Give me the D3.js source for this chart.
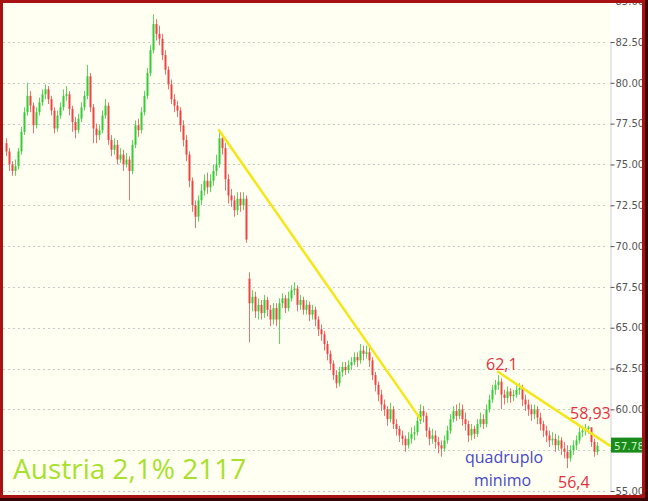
<!DOCTYPE html>
<html>
<head>
<meta charset="utf-8">
<script src="https://cdn.jsdelivr.net/npm/d3@7/dist/d3.min.js"></script>
<style>
html,body{margin:0;padding:0;background:#fff;}
svg{display:block;}
</style>
</head>
<body>
<svg id="chart" width="648" height="501"></svg>
<script>
// ---- data ----
const opens = [76.3,75.8,75.0,74.6,74.9,75.8,77.0,78.2,79.2,78.6,
77.4,78.2,78.8,79.3,79.6,79.0,78.3,77.2,78.0,78.5,
79.2,79.3,78.4,77.6,77.1,77.8,78.5,79.2,80.4,78.5,
77.2,76.8,77.1,78.0,78.6,76.5,75.9,76.2,75.3,75.6,
75.0,75.3,74.6,76.2,77.4,77.1,78.2,79.2,80.6,82.0,
83.6,83.0,82.7,81.7,80.8,79.9,79.0,78.6,78.3,77.4,
76.5,75.6,74.0,72.5,71.8,72.8,73.4,74.0,73.6,74.0,
74.6,75.0,76.6,76.0,74.1,73.1,72.8,72.2,72.9,72.5,
72.9,68.0,66.5,66.9,66.0,66.4,65.9,66.7,66.1,65.5,
66.2,65.5,66.5,66.8,66.2,66.8,67.3,67.4,66.4,66.7,
66.1,66.4,65.8,66.1,65.5,64.9,64.6,64.0,63.4,62.8,
62.1,61.6,62.3,62.6,62.4,62.7,62.9,63.2,63.0,63.6,
63.4,63.5,63.0,62.1,61.5,60.9,60.3,60.0,59.4,60.0,
59.1,58.8,58.4,58.2,57.8,58.2,58.5,58.6,59.3,59.9,
59.6,58.7,58.2,58.4,58.0,57.8,57.6,58.1,58.7,59.4,
59.9,59.6,60.0,59.4,59.1,58.4,58.8,58.5,59.1,59.4,
59.1,60.0,60.6,61.2,61.5,61.7,60.9,60.7,61.1,60.8,
60.9,61.2,61.3,60.6,60.3,60.0,59.7,60.0,59.5,59.1,
58.7,58.4,58.1,58.2,57.8,58.1,57.6,57.4,57.0,57.5,
57.8,58.1,58.6,58.7,58.8,58.9,58.0,57.4];
const closes = [75.8,75.0,74.6,74.9,75.8,77.0,78.2,79.2,78.6,77.4,
78.2,78.8,79.3,79.6,79.0,78.3,77.2,78.0,78.5,79.2,
79.3,78.4,77.6,77.1,77.8,78.5,79.2,80.4,78.5,77.2,
76.8,77.1,78.0,78.6,76.5,75.9,76.2,75.3,75.6,75.0,
75.3,74.6,76.2,77.4,77.1,78.2,79.2,80.6,82.0,83.6,
83.0,82.7,81.7,80.8,79.9,79.0,78.6,78.3,77.4,76.5,
75.6,74.0,72.5,71.8,72.8,73.4,74.0,73.6,74.0,74.6,
75.0,76.6,76.0,74.1,73.1,72.8,72.2,72.9,72.5,72.9,
70.4,66.5,66.9,66.0,66.4,65.9,66.7,66.1,65.5,66.2,
65.5,66.5,66.8,66.2,66.8,67.3,67.4,66.4,66.7,66.1,
66.4,65.8,66.1,65.5,64.9,64.6,64.0,63.4,62.8,62.1,
61.6,62.3,62.6,62.4,62.7,62.9,63.2,63.0,63.6,63.4,
63.5,63.0,62.1,61.5,60.9,60.3,60.0,59.4,60.0,59.1,
58.8,58.4,58.2,57.8,58.2,58.5,58.6,59.3,59.9,59.6,
58.7,58.2,58.4,58.0,57.8,57.6,58.1,58.7,59.4,59.9,
59.6,60.0,59.4,59.1,58.4,58.8,58.5,59.1,59.4,59.1,
60.0,60.6,61.2,61.5,61.7,60.9,60.7,61.1,60.8,60.9,
61.2,61.3,60.6,60.3,60.0,59.7,60.0,59.5,59.1,58.7,
58.4,58.1,58.2,57.8,58.1,57.6,57.4,57.0,57.5,57.8,
58.1,58.6,58.7,58.8,58.9,58.0,57.4,57.78];
const highs = [76.6,76.0,75.2,75.3,76.0,77.3,78.5,80.0,79.5,78.8,
78.5,79.1,79.6,79.9,79.8,79.2,78.5,78.3,78.8,79.6,
79.8,79.5,78.6,77.9,78.1,78.8,79.5,81.1,80.6,78.7,
77.5,77.4,78.3,79.0,78.8,76.8,76.6,76.5,76.0,75.9,
75.7,75.5,76.5,77.7,77.8,78.5,79.5,80.9,82.3,84.2,
83.9,83.5,83.0,82.0,81.0,80.2,79.3,78.9,78.5,77.7,
76.8,75.8,74.2,72.8,73.1,73.8,74.4,74.5,74.4,75.0,
75.6,77.1,76.9,76.3,74.4,73.5,73.1,73.3,73.3,73.3,
73.1,68.4,67.3,67.2,66.8,66.7,67.0,66.9,66.4,66.5,
66.5,66.8,67.1,67.0,67.2,67.6,67.8,67.6,67.0,66.9,
66.7,66.6,66.4,66.3,65.7,65.2,64.8,64.2,63.6,63.0,
62.4,62.6,62.9,62.9,63.0,63.2,63.5,63.5,64.0,63.9,
63.9,63.8,63.2,62.3,61.7,61.2,60.6,60.2,60.4,60.2,
59.4,59.0,58.7,58.4,58.6,58.9,59.0,59.6,60.3,60.2,
59.8,58.9,58.8,58.7,58.3,58.1,58.4,59.0,59.7,60.2,
60.3,60.4,60.3,59.8,59.3,59.1,59.0,59.4,59.8,59.7,
60.3,60.9,61.5,61.8,62.1,61.9,61.2,61.4,61.3,61.2,
61.5,61.6,61.5,60.9,60.6,60.3,60.3,60.2,59.8,59.3,
59.0,58.7,58.6,58.5,58.4,58.3,58.0,57.8,57.8,58.1,
58.4,58.9,59.0,59.1,59.0,58.9,58.2,58.0];
const lows = [75.5,74.6,74.3,74.3,74.7,75.6,76.8,78.0,78.2,76.9,
77.2,78.0,78.6,79.0,78.7,78.0,76.9,77.0,77.8,78.3,
78.9,78.0,77.0,76.6,76.9,77.6,78.3,79.0,78.2,76.3,
76.3,76.5,76.9,77.8,76.2,75.5,75.6,75.0,75.1,74.6,
74.8,72.8,74.4,76.0,76.7,76.9,78.0,79.0,80.4,81.8,
82.6,82.3,81.4,80.5,79.6,78.7,78.2,77.9,77.0,76.1,
75.2,73.6,72.1,71.1,71.5,72.5,73.1,73.2,73.3,73.7,
74.3,74.8,75.6,73.4,72.6,72.4,71.8,71.9,72.1,72.2,
70.2,64.1,66.0,65.6,65.5,65.5,65.6,65.7,65.1,65.2,
65.1,64.0,66.2,65.9,66.0,66.6,67.0,66.0,66.1,65.8,
65.8,65.4,65.5,65.1,64.5,64.2,63.6,63.0,62.4,61.8,
61.3,61.4,62.0,62.1,62.2,62.4,62.7,62.6,62.8,63.0,
63.1,62.6,61.8,61.1,60.5,59.9,59.6,59.0,59.2,58.8,
58.4,58.0,57.8,57.4,57.6,57.9,58.1,58.4,59.1,59.2,
58.3,57.8,57.9,57.6,57.3,57.1,57.4,57.9,58.5,59.2,
59.3,59.4,59.0,58.7,58.0,58.1,58.2,58.3,58.9,58.8,
58.9,59.8,60.4,60.9,61.2,60.0,60.3,60.4,60.4,60.5,
60.7,60.9,60.2,59.9,59.6,59.3,59.4,59.1,58.7,58.3,
58.0,57.7,57.8,57.4,57.5,57.2,57.0,56.4,56.8,57.2,
57.5,57.9,58.3,58.4,58.5,57.7,57.1,57.2];
const yTicks = [55, 57.5, 60, 62.5, 65, 67.5, 70, 72.5, 75, 77.5, 80, 82.5, 85];
const lastPrice = 57.78;
// trend lines: [startIndex, startValue, endIndex, endValue]
const trendLines = [[71, 77.1, 138, 59.45], [164, 62.3, 201.3, 57.78]];
const annotations = [
  {text: "62,1", i: 160, v: 62.4, color: "red"},
  {text: "58,93", i: 188, v: 59.4, color: "red"},
  {text: "56,4", i: 184, v: 55.2, color: "red"},
  {text: "quadruplo", i: 153, v: 56.7, color: "blue"},
  {text: "minimo", i: 156, v: 55.3, color: "blue"}
];
const title = "Austria 2,1% 2117";

// ---- layout ----
const W = 648, H = 501;
const svg = d3.select("#chart");
const x = d3.scaleLinear().domain([0, closes.length - 1]).range([6, 597]);
const y = d3.scaleLinear().domain([55, 82.5]).range([491, 42]);
const plotRight = 610;

svg.append("rect").attr("width", W).attr("height", H).attr("fill", "#fffff2");
svg.append("rect").attr("x", plotRight).attr("y", 0).attr("width", W - plotRight).attr("height", H).attr("fill", "#ffffff");

// gridlines
svg.append("g").selectAll("line").data(yTicks).join("line")
  .attr("x1", 3).attr("x2", plotRight - 2)
  .attr("y1", d => Math.round(y(d)) + 0.5).attr("y2", d => Math.round(y(d)) + 0.5)
  .attr("stroke", "#c9c9c9").attr("stroke-width", 1).attr("stroke-dasharray", "2,3");

// right axis (the 57.50 label sits under the last-price box, as in the reference)
const axis = d3.axisRight(y).tickValues(yTicks).tickSize(4).tickPadding(1)
  .tickFormat(d => d === 57.5 ? "" : d3.format(".2f")(d));
const ag = svg.append("g").attr("transform", `translate(${plotRight + 0.5},0)`).call(axis);
ag.select(".domain").attr("stroke", "#cfcfcf");
ag.selectAll(".tick line").attr("stroke", "#555");
ag.selectAll(".tick text").attr("fill", "#555").attr("font-family", "DejaVu Sans, sans-serif").attr("font-size", 10);

// bars
const bars = d3.range(closes.length).map(i => ({i, o: opens[i], h: highs[i], l: lows[i], c: closes[i]}));
const upCol = "#36cc36", dnCol = "#f04444";
const bg = svg.append("g");
bg.selectAll("line").data(bars).join("line")
  .attr("x1", d => Math.round(x(d.i)) + 0.5).attr("x2", d => Math.round(x(d.i)) + 0.5)
  .attr("y1", d => y(d.h)).attr("y2", d => y(d.l))
  .attr("stroke", d => d.c >= d.o ? "#5cd85c" : "#f27070").attr("stroke-width", 1);
bg.selectAll("rect").data(bars).join("rect")
  .attr("x", d => Math.round(x(d.i)) - 0.5).attr("width", 2)
  .attr("y", d => y(Math.max(d.o, d.c)))
  .attr("height", d => Math.max(1, Math.abs(y(d.o) - y(d.c))))
  .attr("fill", d => d.c >= d.o ? upCol : dnCol);

// trend lines
svg.append("g").selectAll("line").data(trendLines).join("line")
  .attr("x1", d => x(d[0])).attr("y1", d => y(d[1]))
  .attr("x2", d => x(d[2])).attr("y2", d => y(d[3]))
  .attr("stroke", "#f5e61a").attr("stroke-width", 2.5).attr("stroke-linecap", "round");

// annotations
svg.append("g").selectAll("text").data(annotations).join("text")
  .attr("x", d => x(d.i)).attr("y", d => y(d.v))
  .attr("font-family", "Open Sans, sans-serif").attr("font-size", 16)
  .attr("fill", d => d.color === "red" ? "#e2323e" : "#4848c4")
  .text(d => d.text);

// title
svg.append("text").attr("x", 13).attr("y", 479)
  .attr("font-family", "Open Sans, sans-serif").attr("font-size", 28)
  .attr("fill", "#a9df2e").text(title);

// last price marker
const py = y(lastPrice);
svg.append("rect").attr("x", plotRight + 1).attr("y", py - 8).attr("width", 34).attr("height", 15).attr("fill", "#1a8a1a");
svg.append("text").attr("x", plotRight + 4).attr("y", py + 4)
  .attr("font-family", "DejaVu Sans, sans-serif").attr("font-size", 10.5)
  .attr("fill", "#c8f5c8").text(d3.format(".2f")(lastPrice));

// frame
const frame = svg.append("g");
frame.append("path").attr("fill-rule", "evenodd").attr("fill", "#3a0404")
  .attr("d", `M0,0H${W}V${H}H0Z M3,3H642V495H3Z`);
frame.append("path").attr("fill-rule", "evenodd").attr("fill", "#a81212")
  .attr("d", `M0,0H645V498H0Z M3,3H642V495H3Z`);
</script>
</body>
</html>
